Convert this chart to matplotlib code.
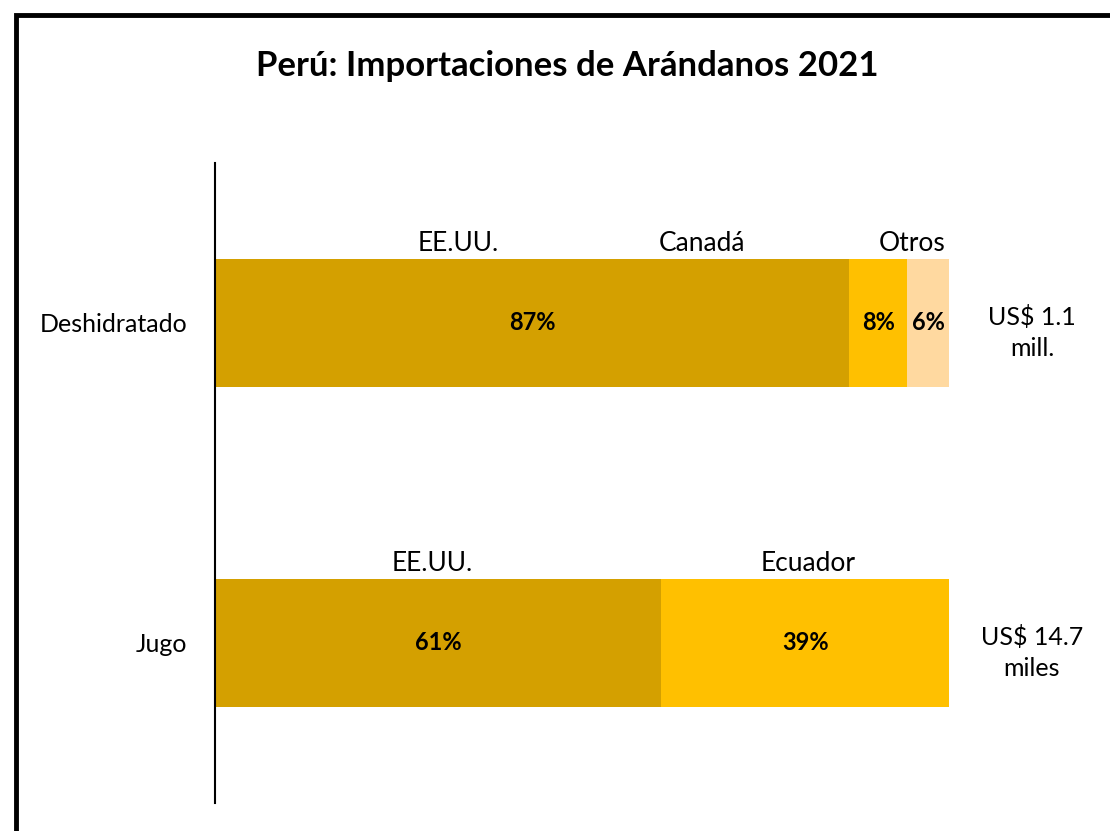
import matplotlib
matplotlib.use("Agg")
import matplotlib.pyplot as plt
from matplotlib.patches import Rectangle

plt.rcParams['font.family'] = ['Lato', 'DejaVu Sans']

# datos
productos = ["Jugo", "Deshidratado"]
jugo_valores = [60.8, 39.2]
jugo_etiquetas = ["61%", "39%"]
jugo_paises = ["EE.UU.", "Ecuador"]
jugo_pos_pais = [29.6, 80.8]
desh_valores = [86.4, 7.9, 5.7]
desh_etiquetas = ["87%", "8%", "6%"]
desh_paises = ["EE.UU.", "Canadá", "Otros"]
desh_pos_pais = [33.1, 66.3, 95.0]
totales = ["US$ 14.7\nmiles", "US$ 1.1\nmill."]

colores = ["#D4A000", "#FFC000", "#FFD9A0"]

fig = plt.figure(figsize=(11.1, 8.31), dpi=100)
# marco
fig.patches.append(Rectangle((16 / 1110, -0.1), 1.2, (831 - 15.5) / 831 + 0.1,
                             transform=fig.transFigure, fill=False,
                             edgecolor="black", linewidth=3.5))

ax = fig.add_axes([215 / 1110, 28 / 831, 734 / 1110, 640 / 831])
alto = 0.4

filas = [(jugo_valores, jugo_etiquetas, jugo_paises, jugo_pos_pais),
         (desh_valores, desh_etiquetas, desh_paises, desh_pos_pais)]
for y, (vals, etqs, paises, pos) in enumerate(filas):
    izq = 0
    for i, v in enumerate(vals):
        ax.barh(y, v, left=izq, height=alto, color=colores[i], linewidth=0)
        ax.text(izq + v / 2, y, etqs[i], ha="center", va="center", fontsize=17,
                fontweight="bold", color="black")
        izq += v
    for p, xp in zip(paises, pos):
        ax.text(xp, y + alto / 2 + 0.008, p, ha="center", va="bottom",
                fontsize=19, color="black")
    ax.text(111.3, y - 0.03, totales[y], ha="center", va="center", fontsize=18,
            linespacing=1.45, color="black", clip_on=False)

ax.set_xlim(0, 100)
ax.set_ylim(-0.5, 1.5)
ax.set_yticks(range(len(productos)))
ax.set_yticklabels(productos, fontsize=18)
ax.tick_params(axis="y", length=0, pad=20)
ax.set_xticks([])
for s in ["top", "right", "bottom"]:
    ax.spines[s].set_visible(False)
ax.spines["left"].set_linewidth(1.5)

fig.text(567 / 1110, 1 - 66 / 831, "Perú: Importaciones de Arándanos 2021",
         ha="center", va="center", fontsize=25, fontweight="bold")

fig.savefig("out.png", dpi=100, facecolor="white")
